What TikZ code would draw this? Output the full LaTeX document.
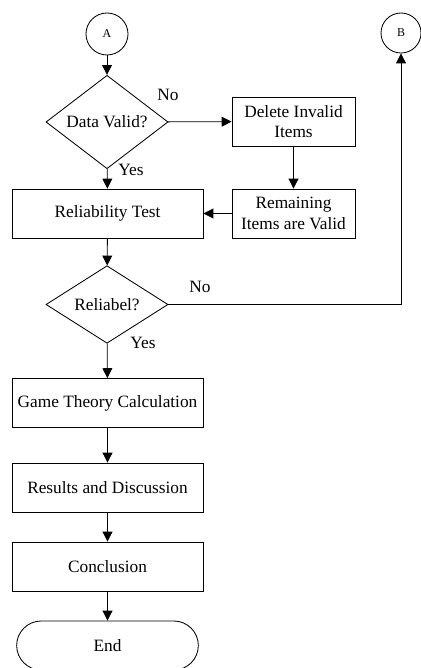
\documentclass[tikz,border=0pt]{standalone}
\usepackage{fontspec}
\setmainfont{Liberation Serif}
\usetikzlibrary{shapes.geometric, shapes.misc, arrows.meta}

\begin{document}
\begin{tikzpicture}[x=0.025cm, y=-0.025cm, line width=0.6pt,
    font=\fontsize{12.3}{14.5}\selectfont,
    conn/.style={draw, circle, minimum size=1.05cm, inner sep=0pt, font=\fontsize{8.5}{10}\selectfont},
    decision/.style={draw, diamond, minimum width=3.05cm, minimum height=1.825cm, inner sep=0pt},
    process/.style={draw, rectangle, minimum width=4.775cm, minimum height=1.225cm, inner sep=1pt},
    sideproc/.style={draw, rectangle, minimum width=3.075cm, minimum height=1.225cm, inner sep=1pt, align=center},
    terminal/.style={draw, rounded rectangle, minimum width=4.775cm, minimum height=1.225cm},
    flow/.style={-{Triangle[length=7pt, width=7pt]}}]
    \useasboundingbox (0,0) rectangle (420,668);
    \node[conn] (A) at (107,34) {A}; \node[conn, minimum size=1cm] (B) at (401,33) {B};
    \node[decision] (valid) at (107,122) {Data Valid?};
    \node[sideproc] (del) at (293.5,121.5) {Delete Invalid\\Items};
    \node[sideproc] (rem) at (293.5,213.5) {Remaining\\Items are Valid};
    \node[process] (rel) at (107.5,213.5) {Reliability Test};
    \node[decision] (reliab) at (107,304.5) {Reliabel?};
    \node[process] (game) at (107.5,403) {Game Theory Calculation};
    \node[process] (res) at (107.5,487.5) {Results and Discussion};
    \node[process] (conc) at (107.5,566.5) {Conclusion};
    \node[terminal] (endn) at (107.5,645.5) {End};
    % labels on the decision branches
    \node (no1) at (168,95) {No}; \node (yes1) at (131,170) {Yes};
    \node (no2) at (200,287) {No}; \node (yes2) at (143,343) {Yes};
    \draw[flow] (A) -- (valid); \draw[flow] (valid) -- (del); \draw[flow] (del) -- (rem);
    \draw[flow] (valid) -- (rel); \draw[flow] (rem) -- (rel); \draw[flow] (rel) -- (reliab);
    \draw[flow] (reliab.east) -| (B.south);
    \draw[flow] (reliab) -- (game); \draw[flow] (game) -- (res);
    \draw[flow] (res) -- (conc); \draw[flow] (conc) -- (endn);
\end{tikzpicture}
\end{document}
